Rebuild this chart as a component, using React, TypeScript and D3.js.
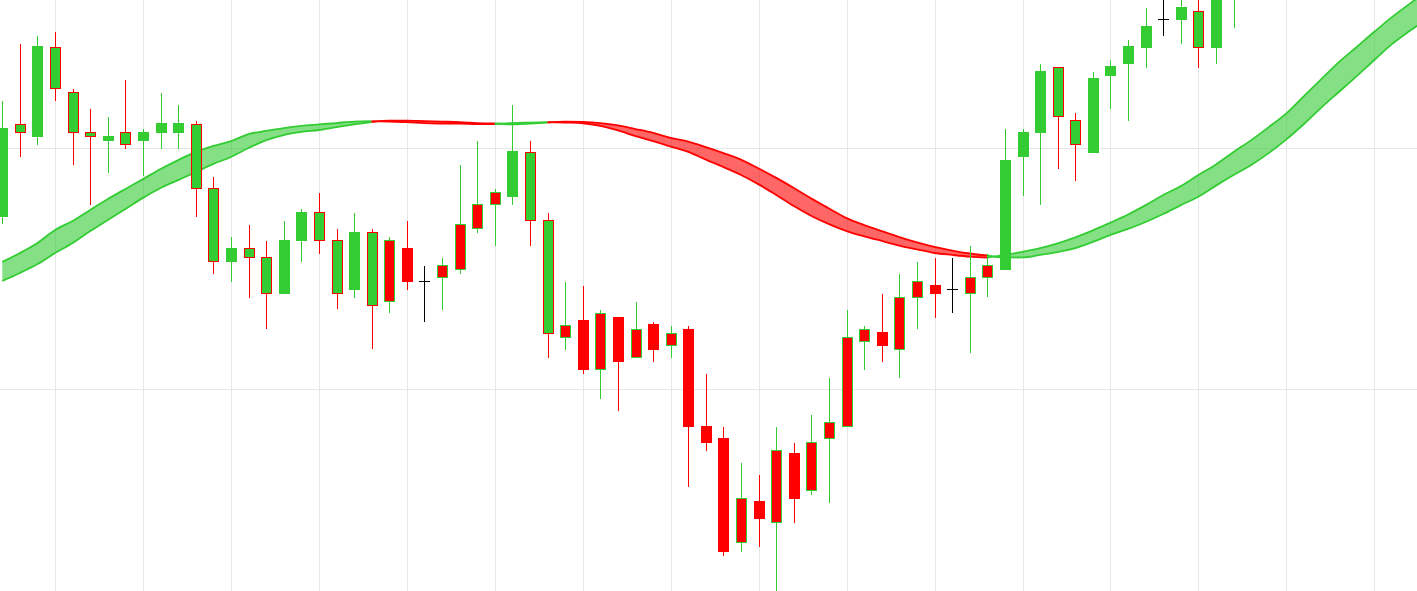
import { useEffect, useRef } from 'react';
import * as d3 from 'd3';

// candle values (one per session)
const opens = [171.6, 210.0, 204.8, 242.0, 223.3, 206.6, 203.2, 206.6, 203.2, 206.5, 206.5, 210.0, 183.4, 153.1, 158.2, 154.8, 139.8, 161.6, 173.4, 161.8, 141.3, 165.1, 136.4, 158.2, 144.7, 146.4, 149.7, 166.8, 176.7, 179.8, 198.3, 170.1, 121.5, 128.3, 108.2, 129.9, 113.2, 126.6, 118.2, 124.9, 84.6, 79.6, 36.3, 53.1, 44.6, 73.0, 57.9, 79.5, 84.5, 119.8, 123.3, 116.5, 138.1, 143.2, 141.4, 139.8, 146.4, 149.7, 196.5, 206.5, 233.7, 211.6, 198.2, 230.2, 235.1, 241.8, 253.6, 253.4, 256.9, 241.8, 267.8];
const highs = [219.6, 243.3, 246.7, 248.3, 224.6, 216.3, 213.0, 228.4, 208.0, 223.0, 218.0, 211.3, 188.1, 163.1, 168.1, 161.5, 169.8, 174.8, 181.4, 166.5, 173.1, 166.5, 163.1, 169.8, 151.1, 154.4, 193.1, 203.0, 183.1, 218.0, 203.0, 173.0, 144.5, 142.8, 132.8, 130.0, 136.1, 127.8, 126.2, 126.2, 106.2, 84.2, 69.3, 64.3, 84.2, 77.6, 89.2, 104.6, 132.8, 126.2, 139.5, 147.8, 152.8, 154.4, 154.4, 159.4, 156.1, 208.0, 208.0, 235.0, 233.7, 214.7, 231.7, 236.7, 245.0, 258.3, 264.9, 265.8, 267.8, 274.1, 284.5];
const lows = [168.4, 196.5, 201.4, 219.8, 193.2, 176.6, 189.9, 199.8, 188.6, 199.8, 199.8, 171.6, 147.9, 144.6, 137.9, 124.8, 139.8, 152.9, 156.2, 133.1, 137.9, 116.5, 131.5, 141.3, 128.0, 132.9, 147.9, 164.9, 159.5, 176.6, 159.5, 113.0, 116.3, 106.4, 96.0, 91.0, 113.2, 111.3, 113.0, 59.4, 74.4, 30.7, 32.4, 34.5, 16.2, 44.5, 56.1, 52.8, 84.5, 108.1, 111.3, 104.7, 124.8, 129.6, 131.5, 114.8, 138.1, 149.7, 180.0, 176.6, 191.5, 186.5, 198.2, 216.5, 211.5, 233.5, 246.8, 243.5, 233.5, 235.1, 250.1];
const closes = [208.4, 206.6, 242.1, 224.9, 206.6, 205.0, 205.1, 201.7, 206.6, 210.1, 210.1, 183.4, 153.1, 158.2, 154.7, 139.8, 161.9, 173.5, 161.8, 139.8, 165.2, 134.8, 161.8, 144.6, 144.7, 151.4, 168.4, 176.7, 181.7, 198.5, 170.1, 123.1, 126.5, 108.0, 131.5, 111.3, 124.8, 116.3, 123.1, 84.3, 77.7, 32.4, 54.6, 46.1, 74.5, 54.4, 77.9, 86.2, 121.5, 124.8, 118.0, 138.1, 144.7, 139.8, 141.4, 146.4, 151.4, 195.1, 206.6, 232.1, 213.3, 201.7, 228.8, 233.8, 242.1, 250.4, 253.6, 258.7, 242.0, 269.9, 280.3];

// two moving averages forming the ribbon (run ahead of the candles)
const fastLine = [152.8, 156.5, 160.7, 166.1, 169.8, 174.4, 178.9, 183.1, 187.2, 191.4, 195.1, 198.5, 201.0, 203.0, 205.9, 207.2, 208.4, 209.3, 209.9, 210.5, 211.1, 211.3, 211.1, 210.9, 210.5, 210.3, 210.3, 210.1, 210.1, 210.5, 210.7, 210.9, 210.7, 210.4, 209.3, 207.4, 205.1, 203.0, 200.7, 198.5, 195.3, 192.2, 188.9, 185.0, 180.6, 176.0, 171.9, 168.5, 165.6, 163.4, 161.5, 159.6, 158.0, 156.5, 155.7, 155.0, 154.6, 155.7, 157.0, 158.5, 160.5, 163.0, 165.9, 169.1, 172.5, 176.4, 180.6, 184.3, 188.9, 193.3, 198.5, 203.4, 208.8, 214.5, 221.7, 228.8, 235.9, 242.1, 248.4, 254.5, 260.0, 265.4];
const slowLine = [144.9, 148.2, 151.9, 156.5, 160.7, 165.6, 170.2, 174.8, 179.4, 183.5, 186.8, 190.1, 193.5, 196.4, 200.1, 203.4, 205.5, 206.8, 207.6, 208.8, 209.9, 210.9, 211.5, 211.5, 211.3, 211.1, 210.9, 210.5, 210.3, 209.9, 210.3, 210.7, 211.1, 211.0, 210.5, 209.5, 208.0, 206.4, 204.3, 202.8, 200.5, 198.0, 195.3, 191.6, 187.7, 183.5, 179.1, 175.0, 171.0, 168.1, 165.6, 163.1, 160.9, 159.0, 157.5, 156.3, 155.5, 154.6, 154.7, 155.7, 156.9, 158.5, 161.1, 164.0, 166.5, 169.4, 172.7, 176.4, 179.9, 184.5, 188.9, 193.1, 198.0, 203.7, 210.1, 217.0, 223.5, 230.0, 236.7, 243.3, 248.7, 253.7];

// grid positions
const gridCandles = [3, 8, 13, 18, 23, 28, 33, 38, 43, 48, 53, 58, 63, 68, 73, 78];
const priceGrid = [100, 200];

const GREEN = '#33cc33';
const RED = '#ff0000';

export default function App() {
  const svgRef = useRef<SVGSVGElement>(null);

  useEffect(() => {
    if (!svgRef.current) return;
    const width = 1417;
    const height = 591;
    const svg = d3.select(svgRef.current);
    svg.selectAll('*').remove();

    const x = d3.scaleLinear().domain([0, 80]).range([2.3, 1409.5]);
    const y = d3.scaleLinear().domain([100, 200]).range([389, 148.3]);

    // grid
    const grid = svg.append('g').attr('shape-rendering', 'crispEdges');
    grid.selectAll('.vg')
      .data(gridCandles)
      .enter()
      .append('line')
        .attr('x1', d => Math.round(x(d)) + 0.5)
        .attr('x2', d => Math.round(x(d)) + 0.5)
        .attr('y1', 0)
        .attr('y2', height)
        .attr('stroke', '#e6e6e6');
    grid.selectAll('.hg')
      .data(priceGrid)
      .enter()
      .append('line')
        .attr('x1', 0)
        .attr('x2', width)
        .attr('y1', d => Math.round(y(d)) + 0.5)
        .attr('y2', d => Math.round(y(d)) + 0.5)
        .attr('stroke', '#e6e6e6')
        .attr('stroke-width', 1.5);

    // ribbon between the two averages, coloured by which one is on top
    const up = fastLine.map((f, i) => f > slowLine[i]);
    const runs: { from: number; to: number; up: boolean }[] = [];
    for (let i = 0; i < fastLine.length - 1; i++) {
      const u = up[i + 1];
      const last = runs[runs.length - 1];
      if (last && last.up === u) last.to = i + 1;
      else runs.push({ from: i, to: i + 1, up: u });
    }

    const area = d3.area<number>()
      .x(i => x(i))
      .y0(i => y(slowLine[i]))
      .y1(i => y(fastLine[i]))
      .curve(d3.curveMonotoneX);
    const fastPath = d3.line<number>().x(i => x(i)).y(i => y(fastLine[i])).curve(d3.curveMonotoneX);
    const slowPath = d3.line<number>().x(i => x(i)).y(i => y(slowLine[i])).curve(d3.curveMonotoneX);

    const band = svg.append('g');
    runs.forEach(r => {
      const idx = d3.range(r.from, r.to + 1);
      const col = r.up ? GREEN : RED;
      band.append('path').attr('d', area(idx)).attr('fill', col).attr('fill-opacity', 0.6);
      band.append('path').attr('d', fastPath(idx)).attr('fill', 'none').attr('stroke', col).attr('stroke-width', 1.8);
      band.append('path').attr('d', slowPath(idx)).attr('fill', 'none').attr('stroke', col).attr('stroke-width', 1.8);
    });

    // candles
    const candles = svg.append('g').attr('shape-rendering', 'crispEdges');
    const bodyW = 9.4;
    opens.forEach((o, i) => {
      const c = closes[i];
      const cx = Math.round(x(i)) + 0.5;
      const dirColor = c > o ? GREEN : c < o ? RED : '#000000';
      const fillColor = up[i] ? GREEN : RED;

      candles.append('line')
        .attr('x1', cx).attr('x2', cx)
        .attr('y1', y(highs[i])).attr('y2', y(lows[i]))
        .attr('stroke', dirColor)
        .attr('stroke-width', 1);

      if (c === o) {
        candles.append('line')
          .attr('x1', cx - 5.5).attr('x2', cx + 5.5)
          .attr('y1', Math.round(y(o)) + 0.5).attr('y2', Math.round(y(o)) + 0.5)
          .attr('stroke', dirColor)
          .attr('stroke-width', 1);
      } else {
        const top = y(Math.max(o, c));
        const bottom = y(Math.min(o, c));
        candles.append('rect')
          .attr('x', cx - bodyW / 2)
          .attr('y', top)
          .attr('width', bodyW)
          .attr('height', bottom - top)
          .attr('fill', fillColor)
          .attr('stroke', dirColor)
          .attr('stroke-width', 1);
      }
    });
  }, []);

  return (
    <svg
      ref={svgRef}
      width={1417}
      height={591}
      style={{ position: 'absolute', left: 0, top: 0, background: '#ffffff' }}
    />
  );
}
